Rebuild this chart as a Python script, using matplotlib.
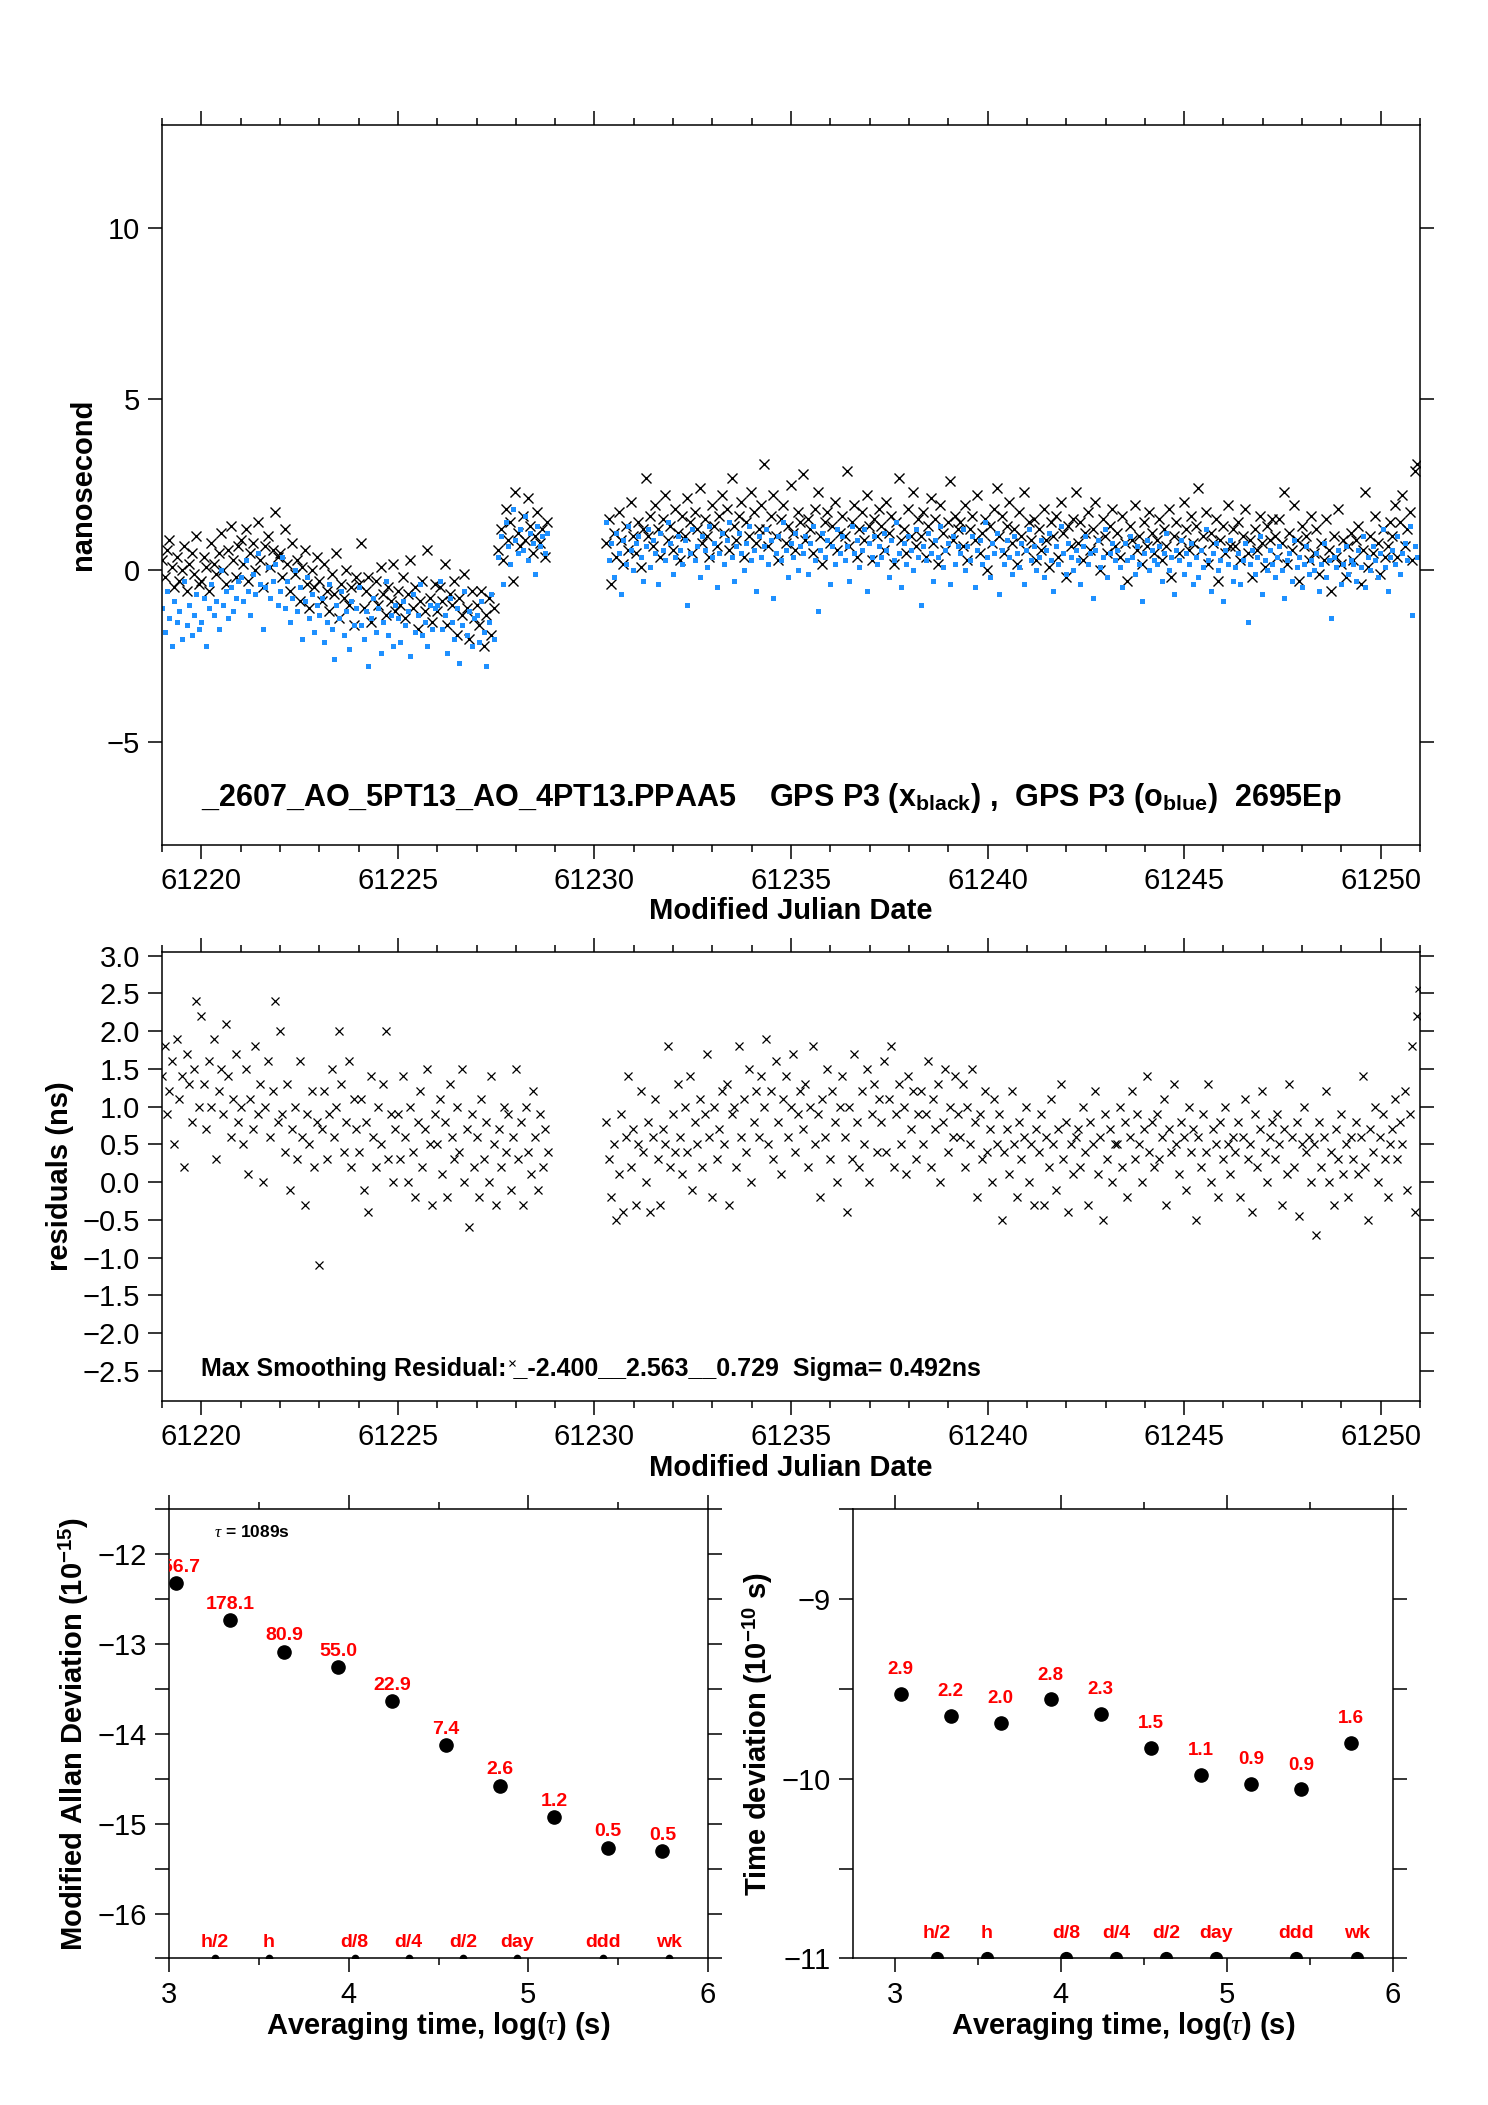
import numpy as np
import matplotlib
matplotlib.use("Agg")
import matplotlib.pyplot as plt
from matplotlib.ticker import MultipleLocator, FixedLocator, NullLocator

plt.rcParams['font.family'] = ['Liberation Sans', 'DejaVu Sans']
plt.rcParams['mathtext.fontset'] = 'custom'
plt.rcParams['mathtext.rm'] = 'Liberation Sans:bold'
plt.rcParams['mathtext.bf'] = 'Liberation Sans:bold'
plt.rcParams['mathtext.it'] = 'Liberation Serif:italic'
plt.rcParams['axes.unicode_minus'] = True

# ---------------- data ----------------
SAMPLES_PER_DAY = 16
seg_a_start = 61219.0      # first block
seg_b_start = 61227.55     # short block after the step
seg_c_start = 61230.3      # block after the gap

black_a = [
    0.3, -0.2, 0.6, 0.9, 0.1, -0.5, 0.4, -0.3, 0.0, 0.7, -0.6, 0.2, 0.5, -0.1, 1.0, -0.4,
    -0.3, 0.4, 0.1, -0.6, 0.8, 0.2, -0.1, 0.5, 1.1, 0.0, -0.4, 0.6, 1.3, 0.3, -0.2, 0.7,
    0.9, 0.2, 1.2, -0.3, 0.5, 0.8, 0.0, 1.4, 0.3, -0.5, 0.7, 1.0, 0.1, 0.6, 1.7, 0.4,
    0.5, -0.2, 1.2, 0.2, -0.6, 0.8, -0.1, 0.3, -0.9, 0.1, 0.6, -0.4, -1.1, 0.0, -0.5, 0.4,
    -0.3, -0.9, 0.2, -0.6, -1.2, -0.1, -0.7, 0.5, -1.4, -0.4, -0.8, 0.0, -1.0, -0.5, -1.6, -0.2,
    -0.4, 0.8, -1.1, -0.6, -0.2, -1.5, -0.8, -0.3, -1.0, 0.1, -0.7, -1.3, -0.5, -0.9, 0.2, -1.2,
    -0.6, -1.0, -0.2, -1.4, -0.7, 0.3, -1.1, -0.5, -1.7, -0.9, -0.3, -1.2, 0.6, -0.8, -1.5, -0.4,
    -1.2, -0.5, -0.9, 0.2, -1.6, -0.7, -1.0, -0.3, -1.9, -0.8, -1.3, -0.1, -1.1, -2.0, -0.6, -1.4,
    -1.0, -1.6, -0.6, -2.2, -1.3, -0.8, -1.9, -1.1]
black_b = [0.6, 1.2, 0.3, 1.8, 0.9, 1.4, -0.3, 2.3, 1.1, 0.7, 1.6, 0.9, 2.1, 1.3, 0.5,
           1.0, 1.7, 0.8, 1.2, 0.4, 1.4]
black_c = [
    0.8, 1.5, -0.4, 1.1, 0.4, 1.7, 0.9, 0.2, 1.3, 0.6, 2.0, 1.0, 0.5, 1.4, 0.1, 1.2,
    2.7, 1.0, 1.6, 0.7, 1.9, 1.2, 0.4, 1.5, 2.2, 0.9, 1.3, 0.6, 1.8, 1.1, 0.3, 1.6,
    1.0, 2.1, 1.4, 0.5, 1.7, 1.2, 2.4, 0.8, 1.5, 1.0, 0.4, 1.9, 1.3, 0.7, 1.6, 2.2,
    1.1, 1.8, 0.6, 2.7, 1.3, 0.9, 1.6, 2.0, 0.4, 1.4, 1.0, 2.3, 1.7, 0.8, 1.2, 1.9,
    3.1, 1.2, 0.7, 1.6, 2.2, 1.0, 0.3, 1.5, 1.9, 0.8, 1.3, 2.5, 1.1, 0.6, 1.7, 1.4,
    2.8, 0.9, 1.5, 1.2, 0.5, 1.8, 2.3, 1.0, 0.2, 1.4, 1.7, 0.8, 1.3, 2.0, 0.6, 1.1,
    1.6, 1.0, 2.9, 0.7, 1.4, 1.9, 0.4, 1.2, 1.7, 0.9, 2.2, 1.3, 0.3, 1.5, 1.0, 1.8,
    1.3, 0.6, 2.0, 1.1, 1.6, 0.2, 1.4, 2.7, 0.9, 1.2, 0.5, 1.8, 1.0, 2.3, 0.7, 1.5,
    1.0, 1.7, 0.4, 1.3, 2.1, 0.8, 1.5, 0.2, 1.9, 1.1, 0.6, 1.4, 2.6, 0.9, 1.6, 1.2,
    1.4, 0.7, 1.9, 0.3, 1.2, 1.6, 0.9, 2.2, 0.5, 1.1, 1.5, 0.0, 1.3, 0.8, 1.8, 2.4,
    1.0, 1.6, 0.5, 1.3, 2.0, 0.8, 1.2, 0.2, 1.7, 1.0, 2.3, 0.6, 1.4, 0.9, 1.5, 0.3,
    1.2, 0.6, 1.8, 0.9, 0.1, 1.4, 1.0, 1.6, 0.4, 2.0, 1.1, -0.2, 1.3, 0.7, 1.5, 2.3,
    0.8, 1.4, 0.3, 1.1, 1.7, 0.6, 1.2, 2.0, 0.9, 0.0, 1.5, 1.0, 0.5, 1.3, 1.8, 0.7,
    1.1, 0.4, 1.6, 0.8, -0.3, 1.3, 0.9, 1.9, 0.6, 1.0, 0.2, 1.4, 0.7, 1.7, 1.1, 0.5,
    0.9, 1.5, 0.3, 1.2, 0.7, 1.8, -0.2, 1.0, 1.4, 0.5, 0.9, 2.0, 1.2, 0.6, 1.6, 0.8,
    1.3, 2.4, 0.6, 1.0, 1.7, 0.2, 1.1, 0.8, 1.5, -0.3, 0.9, 1.3, 0.5, 1.9, 0.7, 1.2,
    0.7, 1.4, 0.3, 1.0, 1.8, 0.5, 0.9, -0.2, 1.2, 0.6, 1.6, 0.8, 0.1, 1.3, 0.9, 1.5,
    1.0, 0.4, 1.5, 0.8, 2.3, 0.2, 1.1, 0.6, 1.9, 0.9, -0.3, 1.3, 0.7, 1.0, 0.3, 1.6,
    0.5, 1.2, -0.1, 0.8, 0.3, 1.5, 0.6, -0.6, 1.0, 0.4, 1.8, 0.2, 0.9, -0.2, 0.7, 1.1,
    0.3, 0.9, 1.3, -0.4, 0.6, 2.3, 0.1, 1.0, 0.5, 1.6, 0.8, -0.1, 1.2, 0.4, 0.7, 1.4,
    1.0, 1.9, 0.4, 1.4, 2.2, 0.7, 1.2, 1.7, 0.3, 2.9, 3.1]

blue_a = [
    -1.1, -1.8, -0.6, -1.4, -2.2, -0.9, -1.5, -1.2, -2.0, -0.3, -1.6, -1.0, -1.9, -1.3, -0.7, -1.7,
    -1.5, -0.8, -2.2, -1.1, -0.4, -1.3, -0.9, -1.7, 0.0, -1.0, -0.6, -1.4, -0.5, -1.2, -0.8, -0.3,
    -0.2, -0.9, 0.3, -0.6, -1.3, -0.1, -0.7, 0.5, -0.4, -1.7, -0.5, 0.1, -0.8, -0.3, 0.2, -1.0,
    -0.6, 0.4, -1.1, -0.3, -1.5, -0.8, 0.0, -1.2, -0.5, -2.0, -0.9, -0.2, -1.4, -0.7, -1.8, -1.0,
    -1.3, -0.8, -2.1, -1.5, -0.4, -1.7, -2.6, -1.0, -1.4, -0.6, -1.9, -1.2, -2.3, -0.9, -1.6, -1.1,
    -0.5, -1.6, -2.0, -1.2, -2.8, -1.4, -0.8, -1.8, -1.1, -2.4, -1.5, -0.3, -1.9, -1.3, -2.2, -1.0,
    -1.4, -2.1, -0.9, -1.6, -1.2, -2.5, -0.7, -1.8, -1.3, -0.4, -1.9, -1.5, -2.2, -1.0, -1.7, -1.1,
    -1.0, -0.3, -1.7, -1.3, -2.4, -0.8, -1.5, -2.0, -1.1, -2.7, -1.6, -0.6, -1.9, -1.2, -2.2, -1.4,
    -1.3, -2.1, -0.9, -1.8, -2.8, -1.5, -0.7, -2.0]
blue_b = [0.4, 1.0, -0.4, 1.4, 0.7, 0.2, 1.8, 0.9, 0.5, 1.2, 0.6, 1.6, 0.3, 1.1, 0.8,
          -0.1, 1.3, 0.7, 1.0, 0.5, 1.1]
blue_c = [
    1.4, 0.3, 0.8, -0.2, 1.1, 0.5, -0.7, 0.9, 0.2, 1.3, 0.6, 0.0, 0.8, 1.0, 0.4, -0.3,
    0.7, 1.2, 0.1, 0.9, 0.5, -0.4, 1.1, 0.6, 0.3, 1.4, 0.8, -0.1, 0.4, 1.0, 0.6, 0.2,
    0.9, -1.0, 0.5, 1.2, 0.3, 0.7, -0.2, 1.0, 0.6, 0.1, 1.3, 0.4, 0.8, -0.5, 0.5, 1.1,
    0.2, 0.9, 1.4, 0.4, -0.3, 0.7, 1.1, 0.5, 0.0, 0.8, 1.3, 0.3, 0.6, -0.6, 1.0, 0.4,
    0.7, 1.2, 0.2, 0.9, -0.8, 0.5, 1.0, 0.3, 1.4, 0.6, -0.2, 0.8, 0.4, 1.1, 0.0, 0.7,
    0.5, 1.0, -0.1, 0.8, 1.3, 0.3, -1.2, 0.6, 1.1, 0.4, 0.9, -0.4, 0.7, 0.2, 1.2, 0.5,
    1.0, 0.3, 0.7, -0.3, 1.3, 0.5, 0.9, 0.1, 0.6, 1.2, -0.6, 0.8, 0.4, 1.0, 0.2, 0.7,
    0.4, 1.1, 0.6, -0.2, 0.9, 0.3, 1.4, 0.5, -0.5, 0.8, 0.2, 1.0, 0.6, 0.0, 1.2, 0.4,
    -1.0, 0.7, 0.3, 1.1, 0.5, -0.3, 0.9, 0.4, 1.3, 0.1, 0.6, 0.8, -0.4, 1.0, 0.2, 0.7,
    0.5, 1.2, 0.0, 0.7, 0.3, 1.0, -0.5, 0.6, 0.9, 0.2, 1.4, 0.4, -0.2, 0.8, 0.5, 1.1,
    -0.7, 0.6, 0.2, 0.9, 0.4, -0.1, 1.0, 0.5, 0.1, 0.8, -0.4, 0.6, 1.2, 0.3, 0.7, 0.0,
    0.4, 0.9, -0.2, 0.6, 1.1, 0.3, -0.6, 0.7, 0.2, 1.3, 0.5, -0.1, 0.8, 0.4, 0.0, 0.6,
    0.3, -0.4, 0.7, 1.0, 0.2, 0.5, -0.8, 0.6, 0.9, 0.1, 0.4, 1.2, -0.2, 0.5, 0.8, 0.3,
    0.6, 0.1, -0.5, 0.8, 0.3, 1.0, 0.4, -0.1, 0.7, 0.2, -0.9, 0.5, 0.9, 0.0, 0.6, 0.3,
    0.2, 0.7, -0.3, 0.5, 1.1, 0.0, 0.4, -0.7, 0.6, 0.3, 0.9, -0.1, 0.5, 0.2, 0.8, -0.4,
    0.4, -0.2, 0.6, 0.1, 1.2, 0.3, -0.6, 0.5, 0.8, 0.0, 0.3, -0.9, 0.6, 0.2, 0.9, -0.3,
    0.1, 0.5, -0.4, 0.3, 0.8, -1.5, 0.2, 0.6, -0.1, 0.4, 1.0, -0.7, 0.3, 0.0, 0.6, 0.2,
    -0.2, 0.4, 0.7, 0.0, -0.8, 0.3, 0.5, -0.3, 0.9, 0.1, 0.4, -0.5, 0.2, 0.7, -0.1, 0.3,
    0.0, 0.5, -0.6, 0.2, 0.8, -0.2, 0.3, -1.4, 0.4, 0.1, 0.6, -0.4, 0.2, 0.7, -0.1, 0.3,
    0.2, -0.3, 0.6, 0.1, 1.0, -0.5, 0.4, 0.0, 0.7, 0.3, -0.2, 0.5, 1.2, 0.1, -0.6, 0.4,
    0.6, 0.2, 1.0, -0.1, 0.5, 0.8, 0.3, 1.3, -1.3, 0.7, 0.4]

resid_a = [
    1.4, 1.8, 0.9, 1.2, 1.6, 0.5, 1.9, 1.1, 1.4, 0.2, 1.7, 1.3, 0.8, 1.5, 2.4, 1.0,
    2.2, 1.3, 0.7, 1.6, 1.0, 1.9, 0.3, 1.2, 1.5, 0.9, 2.1, 1.4, 0.6, 1.1, 1.7, 0.8,
    1.0, 0.5, 1.5, 0.1, 1.1, 0.7, 1.8, 0.9, 1.3, 0.0, 1.0, 1.6, 0.6, 1.2, 2.4, 0.8,
    2.0, 0.9, 0.4, 1.3, -0.1, 0.7, 1.0, 0.3, 1.6, 0.6, -0.3, 0.9, 0.5, 1.2, 0.2, 0.8,
    -1.1, 0.7, 1.2, 0.3, 0.9, 1.5, 0.6, 1.0, 2.0, 1.3, 0.4, 0.8, 1.6, 0.2, 1.1, 0.7,
    0.4, 1.1, -0.1, 0.8, -0.4, 1.4, 0.6, 0.2, 1.0, 0.5, 1.3, 2.0, 0.3, 0.9, 0.0, 0.7,
    0.9, 0.3, 1.4, 0.6, 0.0, 1.0, 0.4, -0.2, 0.8, 1.2, 0.2, 0.7, 1.5, 0.5, -0.3, 0.9,
    0.5, 1.1, 0.1, 0.8, -0.2, 1.3, 0.6, 0.3, 1.0, 0.4, 1.5, 0.0, 0.7, -0.6, 0.9, 0.2,
    0.6, -0.2, 1.1, 0.3, 0.8, 0.0, 1.4, 0.5, -0.3, 0.7, 0.2, 1.0, 0.4, 0.9, -0.1, 0.6,
    1.5, 0.3, 0.8, -0.3, 1.0, 0.4, 0.1, 1.2, 0.6, -0.1, 0.9, 0.2, 0.7, 0.4]
resid_c = [
    0.8, 0.3, -0.2, 0.5, -0.5, 0.1, 0.9, -0.4, 0.6, 1.4, 0.2, 0.7, -0.3, 0.5, 1.2, 0.4,
    0.0, 0.8, -0.4, 0.6, 1.1, 0.3, -0.3, 0.7, 0.5, 1.8, 0.2, 0.9, 0.4, 1.3, 0.6, 0.1,
    1.0, 0.4, 1.4, -0.1, 0.8, 0.5, 1.1, 0.2, 0.9, 1.7, 0.6, -0.2, 1.0, 0.3, 0.7, 1.2,
    0.5, 1.3, -0.3, 0.9, 1.0, 0.2, 1.8, 0.6, 1.1, 0.4, 1.5, 0.0, 0.8, 1.2, 0.6, 1.4,
    1.0, 1.9, 0.5, 1.2, 0.3, 1.6, 0.8, 0.1, 1.1, 1.4, 0.6, 1.0, 1.7, 0.4, 0.9, 1.2,
    0.7, 1.3, 0.2, 1.0, 1.8, 0.5, 0.9, -0.2, 1.1, 0.6, 1.5, 0.3, 1.2, 0.8, 0.0, 1.0,
    1.4, 0.6, -0.4, 1.0, 0.3, 1.7, 0.8, 0.2, 1.2, 0.5, 1.5, 0.0, 0.9, 1.3, 0.4, 1.1,
    0.8, 1.6, 0.4, 1.1, 1.8, 0.2, 0.9, 1.3, 0.5, 1.0, 0.1, 1.4, 0.7, 1.2, 0.3, 0.9,
    1.2, 0.5, 0.9, 1.6, 0.2, 1.1, 0.7, 1.3, 0.0, 0.8, 1.5, 0.4, 1.0, 0.6, 1.4, 0.9,
    0.6, 1.3, 0.2, 1.0, 0.5, 1.5, 0.8, -0.2, 0.9, 0.3, 1.2, 0.4, 0.7, 0.0, 1.1, 0.5,
    0.9, -0.5, 0.4, 0.7, 0.1, 1.2, 0.5, -0.2, 0.8, 0.3, 0.6, 1.0, 0.0, 0.5, -0.3, 0.7,
    0.4, 0.9, -0.3, 0.6, 0.2, 1.1, 0.5, -0.1, 0.7, 1.3, 0.3, 0.8, -0.4, 0.5, 0.1, 0.6,
    0.7, 0.2, 1.0, 0.4, -0.3, 0.8, 0.5, 1.2, 0.1, 0.6, -0.5, 0.9, 0.3, 0.7, 0.0, 0.5,
    0.5, 1.0, 0.2, 0.8, -0.2, 0.6, 1.2, 0.3, 0.9, 0.5, 0.0, 0.7, 1.4, 0.4, 0.8, 0.2,
    0.9, 0.3, 0.6, 1.1, -0.3, 0.7, 0.4, 1.3, 0.5, 0.1, 0.8, 0.6, -0.1, 1.0, 0.4, 0.7,
    -0.5, 0.6, 0.2, 0.9, 0.4, 1.3, 0.0, 0.7, 0.5, -0.2, 0.8, 0.3, 1.0, 0.5, 0.1, 0.6,
    0.4, 0.8, -0.2, 0.6, 1.1, 0.3, 0.5, -0.4, 0.9, 0.2, 0.7, 1.2, 0.4, 0.0, 0.6, 0.8,
    0.3, 0.9, 0.5, -0.3, 0.7, 0.1, 1.3, 0.6, 0.2, 0.8, -0.45, 0.5, 1.0, 0.4, 0.6, 0.0,
    0.5, -0.7, 0.8, 0.2, 0.6, 1.2, 0.0, 0.4, -0.3, 0.7, 0.3, 0.9, 0.1, 0.5, -0.2, 0.6,
    0.3, 0.8, 0.1, 0.6, 1.4, 0.2, -0.5, 0.7, 0.4, 1.0, 0.0, 0.6, 0.9, 0.3, -0.2, 0.5,
    0.7, 1.1, 0.3, 0.8, 0.5, 1.2, -0.1, 0.9, 1.8, -0.4, 2.2]
resid_extreme_mjd = [61227.9, 61250.95]
resid_extreme_val = [-2.40, 2.56]

top_note = ('_2607_AO_5PT13_AO_4PT13.PPAA5    GPS P3 (x$_{\\mathrm{black}}$) ,  '
            'GPS P3 (o$_{\\mathrm{blue}}$)  2695Ep')
resid_note = 'Max Smoothing Residual: _-2.400__2.563__0.729  Sigma= 0.492ns'

log_tau = [3.037, 3.338, 3.639, 3.940, 4.241, 4.542, 4.843, 5.144, 5.445, 5.746]
mdev_log = [-12.33, -12.74, -13.09, -13.26, -13.64, -14.13, -14.58, -14.93, -15.27, -15.31]
mdev_labels = ['356.7', '178.1', '80.9', '55.0', '22.9', '7.4', '2.6', '1.2', '0.5', '0.5']
tdev_log = [-9.53, -9.65, -9.69, -9.56, -9.64, -9.83, -9.98, -10.03, -10.06, -9.80]
tdev_labels = ['2.9', '2.2', '2.0', '2.8', '2.3', '1.5', '1.1', '0.9', '0.9', '1.6']
mark_log = [3.255, 3.556, 4.033, 4.334, 4.635, 4.936, 5.414, 5.782]
mark_labels = ['h/2', 'h', 'd/8', 'd/4', 'd/2', 'day', 'ddd', 'wk']

BLUE = '#1E90FF'
RED = '#FF0000'


def grid(start, values):
    return start + np.arange(len(values)) / SAMPLES_PER_DAY


def style(ax, maj_len=10, min_len=5):
    for s in ax.spines.values():
        s.set_linewidth(1.1)
    ax.tick_params(which='both', direction='out', top=True, right=True,
                   width=1.1, labelsize=21)
    ax.tick_params(which='major', length=maj_len, pad=6)
    ax.tick_params(which='minor', length=min_len)


fig = plt.figure(figsize=(14.88, 21.05), dpi=100)
ax1 = fig.add_axes([0.1089, 0.5988, 0.8454, 0.3419])
ax2 = fig.add_axes([0.1089, 0.3345, 0.8454, 0.2133])
ax3 = fig.add_axes([0.1136, 0.0696, 0.3622, 0.2137])
ax4 = fig.add_axes([0.5733, 0.0696, 0.3629, 0.2137])

# ---------- top panel ----------
for start, vals in ((seg_a_start, black_a), (seg_b_start, black_b), (seg_c_start, black_c)):
    ax1.plot(grid(start, vals), vals, ls='none', marker='x', ms=6.5, mew=1.0, color='black')
for start, vals in ((seg_a_start, blue_a), (seg_b_start, blue_b), (seg_c_start, blue_c)):
    ax1.plot(grid(start, vals), vals, ls='none', marker='s', ms=3.6, mew=0, color=BLUE)
ax1.set_xlim(61219, 61251)
ax1.set_ylim(-8, 13)
ax1.xaxis.set_major_locator(MultipleLocator(5))
ax1.xaxis.set_minor_locator(MultipleLocator(1))
ax1.yaxis.set_major_locator(FixedLocator([-5, 0, 5, 10]))
ax1.yaxis.set_minor_locator(NullLocator())
ax1.ticklabel_format(axis='x', useOffset=False)
style(ax1)
ax1.text(61220, -6.65, top_note, fontsize=22, fontweight='bold', ha='left', va='center')
ax1.set_xlabel('Modified Julian Date', fontsize=21, fontweight='bold', va='center')
ax1.xaxis.set_label_coords(0.5, -0.093)
ax1.set_ylabel('nanosecond', fontsize=21, fontweight='bold', va='center')
ax1.yaxis.set_label_coords(-0.063, 0.5)

# ---------- residual panel ----------
ax2.plot(grid(seg_a_start, resid_a), resid_a, ls='none', marker='x', ms=5.5, mew=0.9, color='black')
ax2.plot(grid(seg_c_start, resid_c), resid_c, ls='none', marker='x', ms=5.5, mew=0.9, color='black')
ax2.plot(resid_extreme_mjd, resid_extreme_val, ls='none', marker='x', ms=5.0, mew=0.8,
         color='black')
ax2.set_xlim(61219, 61251)
ax2.set_ylim(-2.9, 3.05)
ax2.xaxis.set_major_locator(MultipleLocator(5))
ax2.xaxis.set_minor_locator(MultipleLocator(1))
ax2.yaxis.set_major_locator(MultipleLocator(0.5))
ax2.ticklabel_format(axis='x', useOffset=False)
style(ax2)
ax2.text(61220, -2.48, resid_note, fontsize=18, fontweight='bold', ha='left', va='center')
ax2.set_xlabel('Modified Julian Date', fontsize=21, fontweight='bold', va='center')
ax2.xaxis.set_label_coords(0.5, -0.149)
ax2.set_ylabel('residuals (ns)', fontsize=21, fontweight='bold', va='center')
ax2.yaxis.set_label_coords(-0.081, 0.5)

# ---------- Modified Allan deviation ----------
ax3.set_xlim(3, 6)
ax3.set_ylim(-16.5, -11.5)
ax3.plot(log_tau, mdev_log, ls='none', marker='o', ms=9.5, color='black')
for x, y, lab in zip(log_tau, mdev_log, mdev_labels):
    ax3.annotate(lab, (x, y), xytext=(0, 11.5), textcoords='offset points', ha='center',
                 va='center', color=RED, fontsize=14, fontweight='bold', clip_on=True)
floor3 = ax3.get_ylim()[0]
ax3.plot(mark_log, [floor3] * len(mark_log), ls='none', marker='o', ms=4.5, color='black',
         clip_on=True)
for x, lab in zip(mark_log, mark_labels):
    ax3.annotate(lab, (x, floor3), xytext=(0, 11.5), textcoords='offset points', ha='center',
                 va='center', color=RED, fontsize=14, fontweight='bold')
ax3.text(3.25, -11.76, r'$\tau$ = 1089s', fontsize=12.5, fontweight='bold', va='center')
ax3.xaxis.set_major_locator(MultipleLocator(1))
ax3.xaxis.set_minor_locator(MultipleLocator(0.5))
ax3.yaxis.set_major_locator(MultipleLocator(1))
ax3.yaxis.set_minor_locator(MultipleLocator(0.5))
style(ax3)
ax3.tick_params(axis='y', which='minor', length=10)
ax3.set_xlabel(r'Averaging time, log($\tau$) (s)', fontsize=21, fontweight='bold', va='center')
ax3.xaxis.set_label_coords(0.5, -0.149)
ax3.set_ylabel('Modified Allan Deviation (10$^{-15}$)', fontsize=21, fontweight='bold',
               va='center')
ax3.yaxis.set_label_coords(-0.177, 0.5)

# ---------- Time deviation ----------
ax4.set_xlim(2.75, 6)
ax4.set_ylim(-11, -8.5)
ax4.plot(log_tau, tdev_log, ls='none', marker='o', ms=9.5, color='black')
for x, y, lab in zip(log_tau, tdev_log, tdev_labels):
    ax4.annotate(lab, (x, y), xytext=(0, 17.5), textcoords='offset points', ha='center',
                 va='center', color=RED, fontsize=13.5, fontweight='bold', clip_on=True)
floor4 = ax4.get_ylim()[0]
ax4.plot(mark_log, [floor4] * len(mark_log), ls='none', marker='o', ms=8.5, color='black',
         clip_on=True)
for x, lab in zip(mark_log, mark_labels):
    ax4.annotate(lab, (x, floor4), xytext=(0, 18), textcoords='offset points', ha='center',
                 va='center', color=RED, fontsize=14, fontweight='bold')
ax4.xaxis.set_major_locator(MultipleLocator(1))
ax4.xaxis.set_minor_locator(MultipleLocator(0.5))
ax4.yaxis.set_major_locator(MultipleLocator(1))
ax4.yaxis.set_minor_locator(MultipleLocator(0.5))
style(ax4)
ax4.tick_params(axis='y', which='minor', length=10)
ax4.set_xlabel(r'Averaging time, log($\tau$) (s)', fontsize=21, fontweight='bold', va='center')
ax4.xaxis.set_label_coords(0.5, -0.149)
ax4.set_ylabel('Time deviation (10$^{-10}$ s)', fontsize=21, fontweight='bold', va='center')
ax4.yaxis.set_label_coords(-0.176, 0.5)

fig.savefig('out.png', dpi=100)
